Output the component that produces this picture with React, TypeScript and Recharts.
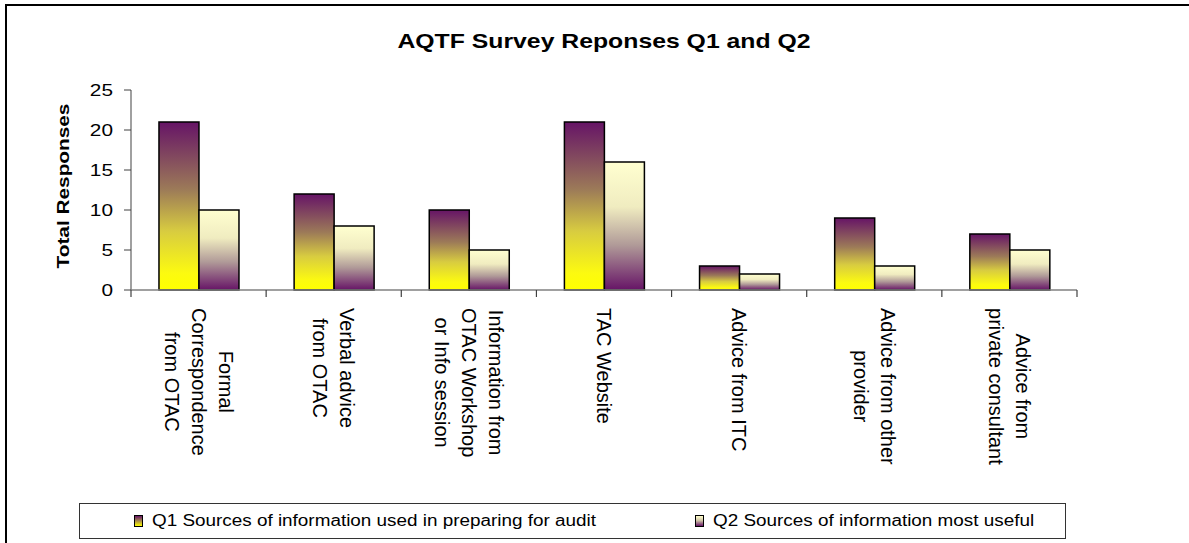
import React, { useEffect } from 'react';
import { BarChart, Bar, XAxis, YAxis, Legend } from 'recharts';

const categories = [
  'Formal\nCorrespondence\nfrom OTAC',
  'Verbal advice\nfrom OTAC',
  'Information from\nOTAC Workshop\nor Info session',
  'TAC Website',
  'Advice from ITC',
  'Advice from other\nprovider',
  'Advice from\nprivate consultant',
];
const q1Values = [21, 12, 10, 21, 3, 9, 7];
const q2Values = [10, 8, 5, 16, 2, 3, 5];
const yTicks = [0, 5, 10, 15, 20, 25];
const seriesNames = [
  'Q1 Sources of information used in preparing for audit',
  'Q2 Sources of information most useful',
];

const data = categories.map((name, i) => ({ name, q1: q1Values[i], q2: q2Values[i] }));

const FONT = '"Liberation Sans", Arial, sans-serif';
const W = 1189;
const H = 543;
const MARGIN = { top: 90, right: 112, left: 20, bottom: 20 };
const PLOT_W = W - MARGIN.left - 111 - MARGIN.right;
const BAND = PLOT_W / categories.length;
const LABEL_FONT = 20;
const LINE_H = 27;

let ctx: CanvasRenderingContext2D | null = null;
const textWidth = (s: string, font: string) => {
  if (!ctx) ctx = document.createElement('canvas').getContext('2d');
  if (!ctx) return s.length * 10;
  ctx.font = font;
  return ctx.measureText(s).width;
};

const CategoryTick = (props: any) => {
  const { x, y, payload, index } = props;
  const lines: string[] = String(payload.value).split('\n');
  const maxW = Math.max(...lines.map((l) => textWidth(l, `${LABEL_FONT}px "Liberation Sans"`)));
  const axisY = y - 18;
  const left = x - BAND / 2;
  const n = lines.length;
  return (
    <g>
      <line x1={left} y1={axisY} x2={left} y2={axisY + 7} stroke="#404040" strokeWidth={1.2} />
      {index === categories.length - 1 && (
        <line x1={x + BAND / 2} y1={axisY} x2={x + BAND / 2} y2={axisY + 7} stroke="#404040" strokeWidth={1.2} />
      )}
      <g transform={`translate(${x},${y + maxW / 2}) rotate(90)`}>
        {lines.map((l, i) => (
          <text
            key={i}
            x={0}
            y={(i - (n - 1) / 2) * LINE_H + 7}
            textAnchor="middle"
            fontSize={LABEL_FONT}
            fontFamily={FONT}
            fill="#000"
          >
            {l}
          </text>
        ))}
      </g>
    </g>
  );
};

const YTick = (props: any) => {
  const { x, y, payload } = props;
  return (
    <g transform={`translate(${x},${y}) scale(1.3,1)`}>
      <text x={0} y={0} dy="0.35em" textAnchor="end" fontSize={16} fontFamily={FONT} fill="#000">
        {payload.value}
      </text>
    </g>
  );
};

const YLabel = () => (
  <text
    transform="translate(68.5,186) rotate(-90) scale(1.3,1)"
    textAnchor="middle"
    fontSize={16}
    fontWeight="bold"
    fontFamily={FONT}
    fill="#000"
  >
    Total Responses
  </text>
);

const q1Css = 'linear-gradient(#661466, #a08050 45%, #ffff00)';
const q2Css = 'linear-gradient(#ffffcc, #d0c4a8 45%, #661466)';

const LegendBox = () => (
  <div style={{ position: 'relative', width: '100%', height: '100%', fontFamily: FONT, fontSize: 16 }}>
    {[q1Css, q2Css].map((bg, i) => (
      <div
        key={i}
        style={{
          position: 'absolute',
          left: i === 0 ? 54 : 615,
          top: 8,
          display: 'flex',
          alignItems: 'center',
          whiteSpace: 'nowrap',
        }}
      >
        <span
          style={{
            display: 'inline-block',
            width: 7,
            height: 10,
            background: bg,
            border: '1px solid #000',
            marginRight: 9,
          }}
        />
        <span
          style={{
            color: '#000',
            display: 'inline-block',
            transform: 'scaleX(1.18)',
            transformOrigin: 'left center',
          }}
        >
          {seriesNames[i]}
        </span>
      </div>
    ))}
  </div>
);

export default function App() {
  useEffect(() => {
    document.body.style.overflow = 'hidden';
  }, []);
  return (
    <div
      style={{
        position: 'fixed',
        left: 0,
        top: 0,
        width: W,
        height: H,
        overflow: 'hidden',
        background: '#fff',
        fontFamily: FONT,
      }}
    >
      <div
        style={{
          position: 'absolute',
          left: 5,
          top: 4,
          width: 1400,
          height: 800,
          border: '2px solid #000',
        }}
      />
      <div
        style={{
          position: 'absolute',
          left: 603.5,
          top: 29,
          fontSize: 21,
          lineHeight: '24px',
          fontWeight: 'bold',
          whiteSpace: 'nowrap',
          transform: 'translateX(-50%) scaleX(1.18)',
          color: '#000',
        }}
      >
        AQTF Survey Reponses Q1 and Q2
      </div>
      <div style={{ position: 'absolute', left: 0, top: 0 }}>
        <BarChart width={W} height={H} data={data} margin={MARGIN} barGap={0} barCategoryGap="20.7%">
          <defs>
            <linearGradient id="gradQ1" x1="0" y1="0" x2="0" y2="1">
              <stop offset="0%" stopColor="#661466" />
              <stop offset="40%" stopColor="#9c7a58" />
              <stop offset="65%" stopColor="#d8cc40" />
              <stop offset="90%" stopColor="#fcfa10" />
              <stop offset="100%" stopColor="#ffff00" />
            </linearGradient>
            <linearGradient id="gradQ2" x1="0" y1="0" x2="0" y2="1">
              <stop offset="0%" stopColor="#ffffd0" />
              <stop offset="35%" stopColor="#f0ecc0" />
              <stop offset="65%" stopColor="#b09a98" />
              <stop offset="100%" stopColor="#661466" />
            </linearGradient>
          </defs>
          <XAxis
            dataKey="name"
            interval={0}
            height={233}
            tick={CategoryTick}
            tickLine={false}
            tickSize={6}
            tickMargin={12}
            axisLine={{ stroke: '#808080', strokeWidth: 1.5 }}
          />
          <YAxis
            domain={[0, 25]}
            ticks={yTicks}
            width={111}
            tick={YTick}
            tickSize={7}
            tickMargin={11}
            axisLine={{ stroke: '#808080', strokeWidth: 1.5 }}
            tickLine={{ stroke: '#404040' }}
            label={YLabel}
          />
          <Legend
            layout="horizontal"
            verticalAlign="middle"
            align="center"
            content={LegendBox}
            wrapperStyle={{
              left: 79,
              top: 503,
              width: 987,
              height: 36,
              border: '1px solid #333',
              boxSizing: 'border-box',
              background: '#fff',
            }}
          />
          <Bar dataKey="q1" name={seriesNames[0]} fill="url(#gradQ1)" stroke="#000" strokeWidth={1.5} isAnimationActive={false} />
          <Bar dataKey="q2" name={seriesNames[1]} fill="url(#gradQ2)" stroke="#000" strokeWidth={1.5} isAnimationActive={false} />
        </BarChart>
      </div>
    </div>
  );
}
